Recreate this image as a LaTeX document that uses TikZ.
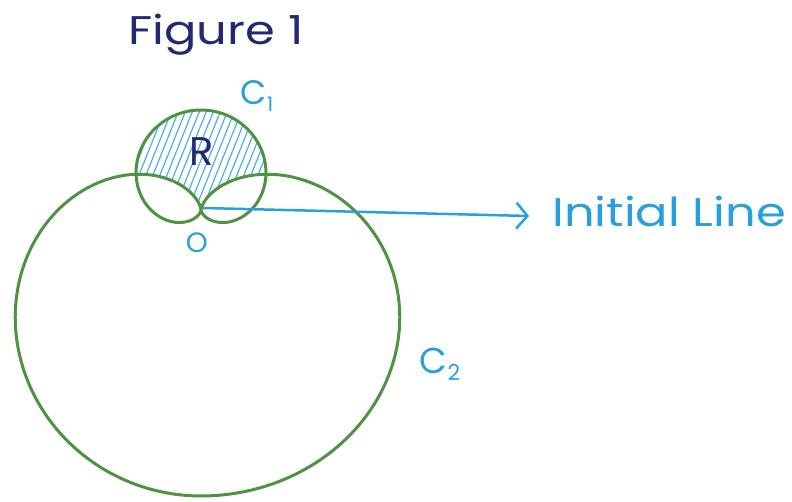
\documentclass[tikz,border=0pt]{standalone}
\usepackage{fontspec}
\setmainfont{Poppins}
\usetikzlibrary{arrows.meta}
\definecolor{pgreen}{RGB}{78,146,66}
\definecolor{pblue}{RGB}{40,160,220}
\definecolor{pnavy}{RGB}{35,40,115}
\tikzset{
  curve/.style={pgreen, line width=3pt, line join=round},
  hatch/.style={pblue!85, line width=1.2pt},
  bluelabel/.style={text=pblue, inner sep=0pt},
  navylabel/.style={text=pnavy, inner sep=0pt}
}
\begin{document}
\begin{tikzpicture}[x=1pt,y=-1pt]
\useasboundingbox (0,0) rectangle (792,502);
\def\ox{201}\def\oy{210}\def\rA{50}\def\rB{143}
\def\Cone{plot[domain=-90:270,samples=300] ({\ox+\rA*(1+sin(\x))*cos(\x)},{\oy-\rA*(1+sin(\x))*sin(\x)}) -- cycle}
\def\Ctwo{plot[domain=90:450,samples=400] ({\ox+\rB*(1-sin(\x))*cos(\x)*(1+0.07*(cos(\x)>0))},{\oy-\rB*(1-sin(\x))*sin(\x)}) -- cycle}
% shaded region R: inside C1, outside C2
\begin{scope}
\clip \Cone;
\foreach \i in {0,...,34} \draw[hatch] (60+\i*7,250) -- ++(60,-150);
\end{scope}
\fill[white] \Ctwo;
% C1 and C2
\draw[curve] \Cone;
\draw[curve] \Ctwo;
% initial line
\coordinate (O) at (\ox+2,\oy-2);
\coordinate (tip) at (529,216);
\draw[pblue, line width=2.5pt, line cap=round, -{Straight Barb[length=11pt,width=26pt,line width=2.5pt]}] (O) -- (tip);
% labels
\node[navylabel, font=\fontsize{40}{40}\selectfont, xscale=1.2] (fig) at (216,35) {Figure 1};
\node[bluelabel, font=\fontsize{34}{34}\selectfont] (c1) at (257,96) {C\raisebox{-0.2em}{\fontsize{20}{20}\selectfont 1}};
\node[bluelabel, font=\fontsize{36}{36}\selectfont] (c2) at (440,364) {C\raisebox{-0.2em}{\fontsize{22}{22}\selectfont 2}};
\node[bluelabel, font=\fontsize{28}{28}\selectfont] (o) at (197,243) {O};
\node[navylabel, font=\fontsize{40}{40}\selectfont] (r) at (202,152) {R};
\node[bluelabel, font=\fontsize{40}{40}\selectfont, xscale=1.2, anchor=west] (il) at (552,211) {Initial Line};
\end{tikzpicture}
\end{document}
